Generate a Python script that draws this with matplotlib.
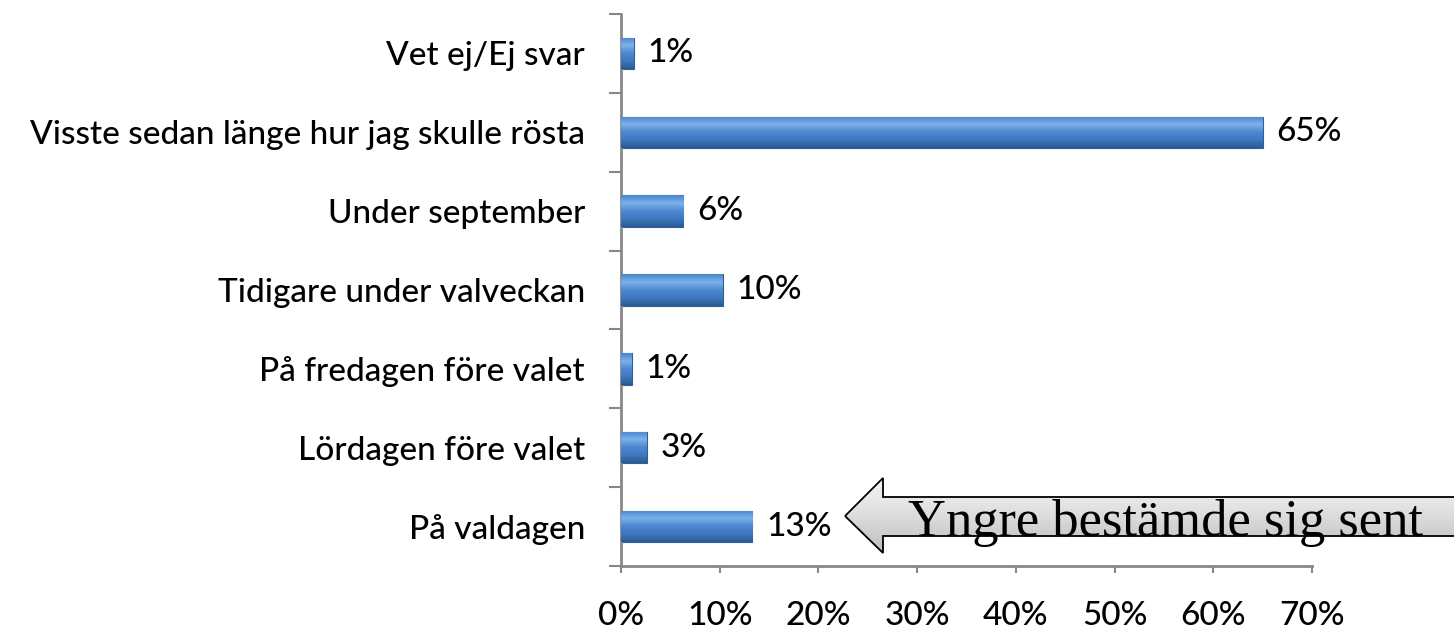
import matplotlib
matplotlib.use("Agg")
import matplotlib.pyplot as plt
import numpy as np
from matplotlib.patches import Polygon
from matplotlib.colors import LinearSegmentedColormap

categories = ["På valdagen", "Lördagen före valet", "På fredagen före valet",
              "Tidigare under valveckan", "Under september",
              "Visste sedan länge hur jag skulle rösta", "Vet ej/Ej svar"]
values = [13.3, 2.6, 1.1, 10.3, 6.3, 65.0, 1.3]
value_labels = ["13%", "3%", "1%", "10%", "6%", "65%", "1%"]
xticks = [0, 10, 20, 30, 40, 50, 60, 70]
xtick_labels = ["0%", "10%", "20%", "30%", "40%", "50%", "60%", "70%"]
callout = "Yngre bestämde sig sent"

FONT = ["Lato", "DejaVu Sans"]
FS = 24
W, H = 1454, 634
fig = plt.figure(figsize=(W / 100, H / 100), dpi=100)
ax = fig.add_axes([621 / W, 1 - 566 / H, (1312 - 621) / W, (566 - 14) / H])

y = np.arange(len(categories))
bars = ax.barh(y, values, height=0.4, color="#4A86CF", edgecolor="#2F5F98", linewidth=0.8, zorder=2)

cmap = LinearSegmentedColormap.from_list("bev", ["#2C5A91", "#3E78BF", "#4C88D0", "#7DB1EA", "#4A86CF"])
grad = np.linspace(0, 1, 64).reshape(-1, 1)
for b in bars:
    x0, y0, w, h = b.get_x(), b.get_y(), b.get_width(), b.get_height()
    im = ax.imshow(grad, extent=(x0, x0 + w, y0, y0 + h), origin="lower", cmap=cmap,
                   aspect="auto", zorder=3)
    im.set_clip_path(b)

for yi, v, lab in zip(y, values, value_labels):
    ax.text(v + 1.4, yi, lab, va="center", ha="left", fontsize=FS, family=FONT,
            fontweight="medium", color="#000000")

ax.set_xlim(0, 70)
ax.set_ylim(-0.5, len(categories) - 0.5)
ax.set_xticks(xticks)
ax.set_xticklabels(xtick_labels, family=FONT, fontsize=FS, fontweight="medium")
ax.set_yticks(np.arange(len(categories) + 1) - 0.5, minor=False)
ax.set_yticklabels([])
ax.set_yticks(y, minor=True)
ax.set_yticklabels(categories, minor=True, family=FONT, fontsize=FS, fontweight="medium")
ax.tick_params(axis="y", which="major", length=9, width=1.5, color="#888888", direction="out")
ax.tick_params(axis="y", which="minor", length=0, pad=26)
ax.tick_params(axis="x", length=5, width=1.5, color="#888888", pad=20)
for s in ["top", "right"]:
    ax.spines[s].set_visible(False)
for s in ["left", "bottom"]:
    ax.spines[s].set_color("#888888")
    ax.spines[s].set_linewidth(2)

# callout arrow in figure pixel coordinates
def P(px, py):
    return (px / W, 1 - py / H)
pts = [P(845, 516), P(883, 478), P(883, 497), P(1460, 497), P(1460, 536), P(883, 536), P(883, 553)]
ax_g = fig.add_axes([0, 0, 1, 1], zorder=5)
ax_g.set_axis_off()
ax_g.patch.set_alpha(0)
g = np.linspace(0, 1, 64).reshape(-1, 1)
gc = LinearSegmentedColormap.from_list("g", ["#F6F6F6", "#DDDDDD", "#BDBDBD"])
gim = ax_g.imshow(g, extent=(845 / W, 1.0, 1 - 553 / H, 1 - 478 / H), cmap=gc,
                  aspect="auto", origin="upper")
ax_g.set_xlim(0, 1); ax_g.set_ylim(0, 1)
gp = Polygon(pts, closed=True, transform=ax_g.transData, facecolor="none", edgecolor="#000000",
             linewidth=1.3, zorder=4)
ax_g.add_patch(gp)
gim.set_clip_path(gp)
ax_g.text(908 / W, 1 - 536 / H, callout, family=["Liberation Serif"], fontsize=37.8,
          ha="left", va="baseline", color="#000000", zorder=6)

fig.savefig("out.png", dpi=100, facecolor="white")
